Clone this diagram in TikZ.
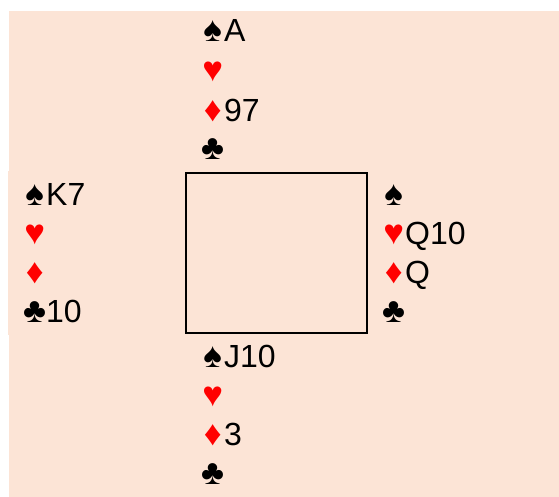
\documentclass[tikz,border=0pt]{standalone}
\usepackage{fontspec}
\setmainfont{Liberation Sans}
\definecolor{peach}{HTML}{FCE4D6}
\definecolor{suitred}{HTML}{FF0000}
\newcommand{\suitbox}[2]{\makebox[19pt][c]{\fontsize{35}{35}\selectfont\textcolor{#1}{#2}}\hspace{2pt}}
\newcommand{\Sp}{\suitbox{black}{♠}}
\newcommand{\Ht}{\suitbox{suitred}{♥}}
\newcommand{\Dm}{\suitbox{suitred}{♦}}
\newcommand{\Cl}{\suitbox{black}{♣}}
\begin{document}
\begin{tikzpicture}[x=1pt,y=-1pt,
  handline/.style={anchor=base west,inner sep=0pt,font=\fontsize{32}{36}\selectfont}]
\useasboundingbox (0,0) rectangle (559,497);
\fill[peach] (9,11) rectangle (559,497);
\fill[peach] (8,171) rectangle (60,335);
\draw[line width=2.2pt] (186,173) rectangle (367,333);
% North
\node[handline] (n1) at (203,42) {\Sp A};
\node[handline] (n2) at (203,82) {\Ht};
\node[handline] (n3) at (203,122) {\Dm 97};
\node[handline] (n4) at (203,160) {\Cl};
% West
\node[handline] (w1) at (25,205) {\Sp K7};
\node[handline] (w2) at (25,244) {\Ht};
\node[handline] (w3) at (25,283) {\Dm};
\node[handline] (w4) at (25,322) {\Cl 10};
% East
\node[handline] (e1) at (384,205) {\Sp};
\node[handline] (e2) at (384,244) {\Ht Q10};
\node[handline] (e3) at (384,283) {\Dm Q};
\node[handline] (e4) at (384,322) {\Cl};
% South
\node[handline] (s1) at (203,367) {\Sp J10};
\node[handline] (s2) at (203,406) {\Ht};
\node[handline] (s3) at (203,445) {\Dm 3};
\node[handline] (s4) at (203,484) {\Cl};
\end{tikzpicture}
\end{document}
